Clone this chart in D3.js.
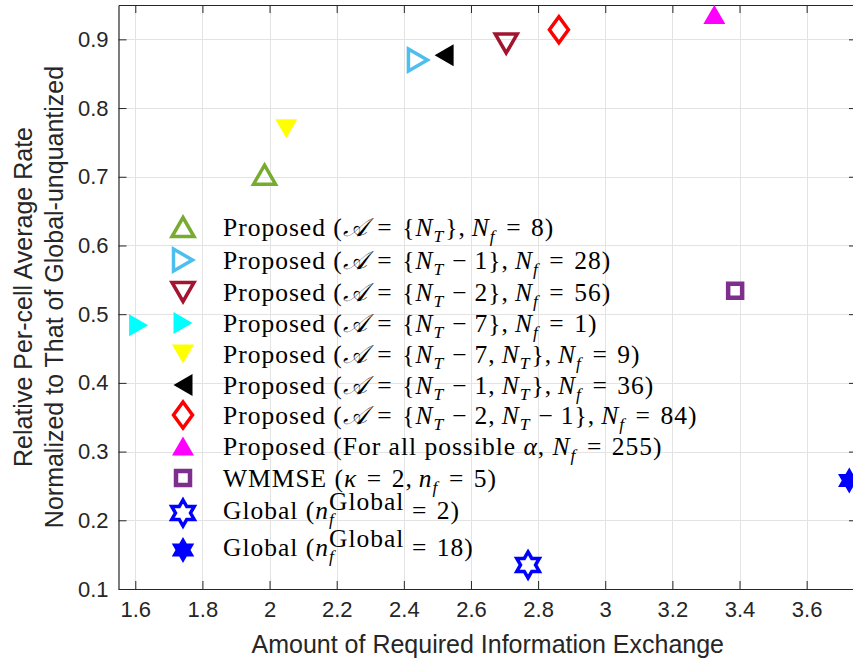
<!DOCTYPE html>
<html>
<head>
<meta charset="utf-8">
<script src="https://cdn.jsdelivr.net/npm/d3@7"></script>
<style>
  html, body { margin: 0; padding: 0; background: #fff; }
  svg { display: block; }
</style>
</head>
<body>
<svg id="chart" width="853" height="663"></svg>
<script>
// ---- data -------------------------------------------------------------
const seriesLabels = [
  "Proposed ($@A = \\{N_T\\}, N_f = 8$)",
  "Proposed ($@A = \\{N_T − 1\\}, N_f = 28$)",
  "Proposed ($@A = \\{N_T − 2\\}, N_f = 56$)",
  "Proposed ($@A = \\{N_T − 7\\}, N_f = 1$)",
  "Proposed ($@A = \\{N_T − 7, N_T\\}, N_f = 9$)",
  "Proposed ($@A = \\{N_T − 1, N_T\\}, N_f = 36$)",
  "Proposed ($@A = \\{N_T − 2, N_T − 1\\}, N_f = 84$)",
  "Proposed (For all possible $α$, $N_f = 255$)",
  "WMMSE ($κ = 2, n_f = 5$)",
  "Global ($n_f^{Global} = 2$)",
  "Global ($n_f^{Global} = 18$)"
];
const exchangeAmount = [1.985, 2.442, 2.705, 1.610, 2.050, 2.520, 2.862, 3.325, 3.387, 2.770, 3.727];
const relativeRate   = [0.703, 0.870, 0.894, 0.484, 0.770, 0.877, 0.914, 0.936, 0.534, 0.135, 0.258];
const markerShapes   = ["triUp", "triRight", "triDown", "triRight", "triDown", "triLeft", "diamond", "triUp", "square", "hexagram", "hexagram"];
const markerFilled   = [false, false, false, true, true, true, false, true, false, false, true];
const markerColors   = ["#77AC30", "#4DBEEE", "#A2142F", "#00FFFF", "#FFFF00", "#000000", "#FF0000", "#FF00FF", "#7E2F8E", "#0000FF", "#0000FF"];

const xTicks = [1.6, 1.8, 2.0, 2.2, 2.4, 2.6, 2.8, 3.0, 3.2, 3.4, 3.6];
const yTicks = [0.1, 0.2, 0.3, 0.4, 0.5, 0.6, 0.7, 0.8, 0.9];
const xDomain = [1.55, 3.75];
const yDomain = [0.1, 0.95];

// ---- layout -----------------------------------------------------------
const plot = { left: 118.5, top: 5, right: 857, bottom: 589 };
const axisColor = "#262626";
const gridColor = "#e3e3e3";
const sansFont = "'Liberation Sans', Arial, Helvetica, sans-serif";
const serifFont = "'Liberation Serif', 'Times New Roman', serif";

const svg = d3.select("#chart");
const x = d3.scaleLinear().domain(xDomain).range([plot.left, plot.right]);
const y = d3.scaleLinear().domain(yDomain).range([plot.bottom, plot.top]);

// grid
const grid = svg.append("g").attr("stroke", gridColor).attr("stroke-width", 1);
grid.selectAll("line.vx").data(xTicks).join("line")
  .attr("x1", d => Math.round(x(d)) + 0.5).attr("x2", d => Math.round(x(d)) + 0.5)
  .attr("y1", plot.top).attr("y2", plot.bottom);
grid.selectAll("line.hy").data(yTicks).join("line")
  .attr("y1", d => Math.round(y(d)) + 0.5).attr("y2", d => Math.round(y(d)) + 0.5)
  .attr("x1", plot.left).attr("x2", plot.right);

// axes (ticks point inward on all four sides)
const fmtX = d => d3.format("~g")(d);
const fmtY = d => d3.format(".1f")(d);
function styleAxis(g) {
  g.selectAll(".domain").attr("stroke", axisColor).attr("stroke-width", 1.2);
  g.selectAll(".tick line").attr("stroke", axisColor).attr("stroke-width", 1);
  g.selectAll(".tick text").attr("fill", axisColor).attr("font-family", sansFont).attr("font-size", 22);
}
svg.append("g").attr("transform", `translate(0,${plot.bottom})`)
  .call(d3.axisBottom(x).tickValues(xTicks).tickFormat(fmtX).tickSize(-8).tickSizeOuter(0).tickPadding(12))
  .call(styleAxis);
svg.append("g").attr("transform", `translate(0,${plot.top})`)
  .call(d3.axisTop(x).tickValues(xTicks).tickFormat("").tickSize(-8).tickSizeOuter(0))
  .call(styleAxis);
svg.append("g").attr("transform", `translate(${plot.left},0)`)
  .call(d3.axisLeft(y).tickValues(yTicks).tickFormat(fmtY).tickSize(-8).tickSizeOuter(0).tickPadding(10))
  .call(styleAxis);
svg.append("g").attr("transform", `translate(${plot.right},0)`)
  .call(d3.axisRight(y).tickValues(yTicks).tickFormat("").tickSize(-8).tickSizeOuter(0))
  .call(styleAxis);

// axis titles
svg.append("text")
  .attr("x", (plot.left + plot.right) / 2).attr("y", 653)
  .attr("text-anchor", "middle").attr("font-family", sansFont).attr("font-size", 25)
  .attr("fill", axisColor).text("Amount of Required Information Exchange");
const yTitle = svg.append("g").attr("transform", `translate(0,${(plot.top + plot.bottom) / 2}) rotate(-90)`);
yTitle.append("text").attr("x", 0).attr("y", 31.5)
  .attr("text-anchor", "middle").attr("font-family", sansFont).attr("font-size", 25)
  .attr("fill", axisColor).text("Relative Per-cell Average Rate");
yTitle.append("text").attr("x", 0).attr("y", 62.5)
  .attr("text-anchor", "middle").attr("font-family", sansFont).attr("font-size", 25)
  .attr("fill", axisColor).text("Normalized to That of Global-unquantized");

// ---- marker shapes ------------------------------------------------------
function shapePath(kind) {
  const p = [];
  switch (kind) {
    case "triUp":    return "M0,-9.5L11,9.5L-11,9.5Z";
    case "triDown":  return "M0,9.5L11,-9.5L-11,-9.5Z";
    case "triRight": return "M9.5,0L-9.5,11L-9.5,-11Z";
    case "triLeft":  return "M-9.5,0L9.5,-11L9.5,11Z";
    case "diamond":  return "M0,-13L9.5,0L0,13L-9.5,0Z";
    case "square":   return "M-7,-7L7,-7L7,7L-7,7Z";
    case "hexagram": {
      const R = 13, r = R / Math.sqrt(3);
      for (let k = 0; k < 12; k++) {
        const a = (-90 + 30 * k) * Math.PI / 180;
        const rr = k % 2 === 0 ? R : r;
        p.push([rr * Math.cos(a), rr * Math.sin(a)]);
      }
      return "M" + p.map(q => q[0].toFixed(2) + "," + q[1].toFixed(2)).join("L") + "Z";
    }
  }
}
function drawMarker(g, i) {
  const filled = markerFilled[i];
  const sw = markerShapes[i] === "square" ? 4.5 : 3.5;
  g.append("path")
    .attr("d", shapePath(markerShapes[i]))
    .attr("fill", filled ? markerColors[i] : "none")
    .attr("stroke", filled ? "none" : markerColors[i])
    .attr("stroke-width", filled ? 0 : sw)
    .attr("stroke-linejoin", "miter");
}

// data points, clipped to the axes box
svg.append("clipPath").attr("id", "plotClip").append("rect")
  .attr("x", plot.left).attr("y", plot.top)
  .attr("width", plot.right - plot.left).attr("height", plot.bottom - plot.top);
const pts = svg.append("g").attr("clip-path", "url(#plotClip)");
seriesLabels.forEach((_, i) => {
  const g = pts.append("g").attr("transform", `translate(${x(exchangeAmount[i])},${y(relativeRate[i])})`);
  drawMarker(g, i);
});

// ---- legend -------------------------------------------------------------
const legendRows = [227, 260, 292, 323, 354, 385, 415, 446, 478, 513, 550];
const legendMarkerX = 183, legendTextX = 223;
const fs = 25.5, subFs = 17.5, tracking = 1.0;

// tokenise a label: plain text is roman, $...$ is maths with TeX-like spacing
function tokens(label) {
  const out = [];
  let math = false;
  const chars = [...label];
  for (let k = 0; k < chars.length; k++) {
    const c = chars[k];
    if (c === "$") { math = !math; continue; }
    if (c === "\\") { out.push({ t: chars[++k], kind: "r" }); continue; }
    if (!math) { out.push({ t: c, kind: "r" }); continue; }
    if (c === " ") {
      const prev = chars[k - 1], next = chars[k + 1];
      let w = 4;
      if (prev === "=" || next === "=") w = 9.5;
      else if (prev === "−" || next === "−") w = 7;
      else if (prev === ",") w = 6;
      out.push({ kind: "gap", w });
      continue;
    }
    if (c === "@") { out.push({ t: chars[++k], kind: "cal" }); continue; }
    if (c === "_") { out.push({ t: chars[++k], kind: "sub" }); continue; }
    if (c === "^") {
      let end = k + 2;
      while (chars[end] !== "}") end++;
      out.push({ t: chars.slice(k + 2, end).join(""), kind: "sup" });
      k = end; continue;
    }
    if (/[A-Za-zα-ω]/.test(c)) out.push({ t: c, kind: "i" });
    else out.push({ t: c, kind: "r" });
  }
  const merged = [];
  out.forEach(o => {
    const last = merged[merged.length - 1];
    if (last && last.kind === o.kind && (o.kind === "r" || o.kind === "i")) last.t += o.t;
    else merged.push({ ...o });
  });
  return merged;
}

// each label is one text element; its pieces are positioned tspans
const legend = svg.append("g");
seriesLabels.forEach((label, i) => {
  const rowY = legendRows[i];
  const mg = legend.append("g").attr("transform", `translate(${legendMarkerX},${rowY})`);
  drawMarker(mg, i);
  const base = rowY + (i >= 9 ? 6 : 9);
  const text = legend.append("text")
    .attr("font-family", serifFont).attr("font-size", fs).attr("fill", "#000")
    .attr("letter-spacing", tracking)
    .style("white-space", "pre");
  let cx = legendTextX, subStart = null, subW = 0;
  tokens(label).forEach(tk => {
    if (tk.kind === "gap") { cx += tk.w; subStart = null; return; }
    let dy = 0, size = fs, italic = false;
    if (tk.kind === "i" || tk.kind === "cal") italic = true;
    if (tk.kind === "sub") { size = subFs; dy = 6; italic = true; }
    if (tk.kind === "sup") { size = fs; dy = -9; }
    let px = cx;
    if (tk.kind === "sup" && subStart !== null) px = subStart;
    const t = text.append("tspan")
      .attr("x", px).attr("y", base + dy).attr("font-size", size)
      .attr("font-style", italic ? "italic" : "normal")
      .text(tk.kind === "cal" ? "\u{1D49C}" : tk.t);
    const w = t.node().getComputedTextLength();
    if (tk.kind === "sub") { subStart = cx; subW = w; cx += w + 1; }
    else if (tk.kind === "sup") { cx = Math.max(subStart + subW, px + w - 2); subStart = null; }
    else { cx += w; subStart = null; }
  });
});
</script>
</body>
</html>
